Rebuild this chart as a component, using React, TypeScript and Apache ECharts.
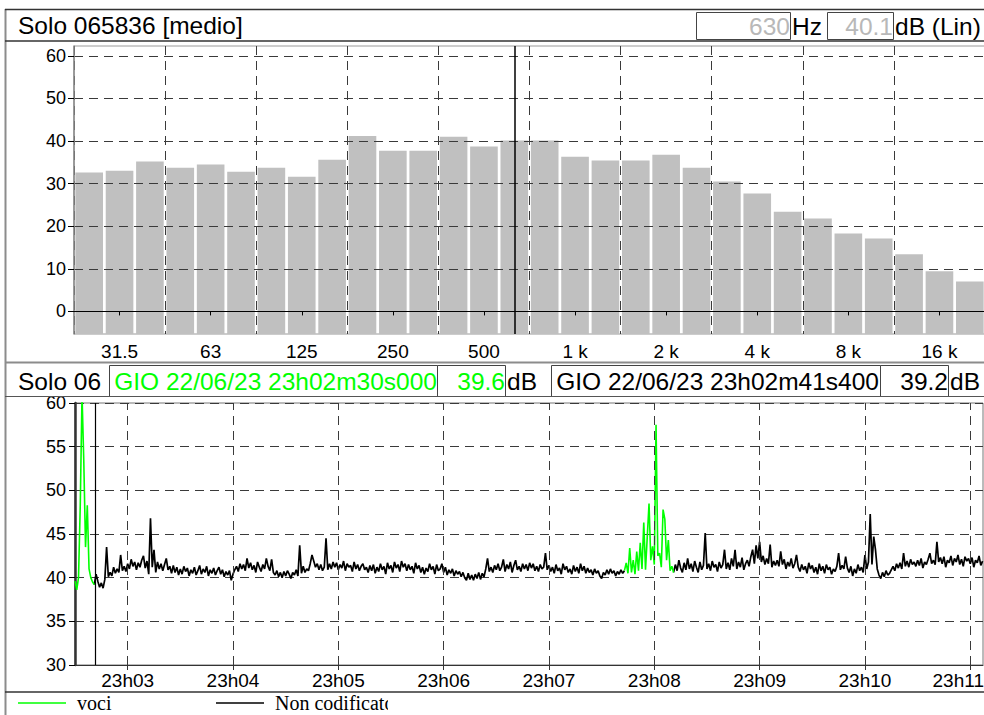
import React, { useEffect, useRef } from "react";
import * as echarts from "echarts";

// ---- Spectrum (1/3 octave) ----
const bandLabels = [
  "25", "31.5", "40", "50", "63", "80", "100", "125", "160", "200",
  "250", "315", "400", "500", "630", "800", "1 k", "1.25 k", "1.6 k", "2 k",
  "2.5 k", "3.15 k", "4 k", "5 k", "6.3 k", "8 k", "10 k", "12.5 k", "16 k", "20 k",
];
const bandLevels = [
  32.6, 33.0, 35.2, 33.7, 34.5, 32.8, 33.7, 31.6, 35.6, 41.2,
  37.7, 37.7, 41.0, 38.7, 40.1, 40.1, 36.3, 35.4, 35.4, 36.8,
  33.7, 30.5, 27.7, 23.4, 21.8, 18.3, 17.1, 13.4, 9.4, 7.0,
];
const spectrumTicks = [0, 10, 20, 30, 40, 50, 60];
const spectrumMin = -5.3;
const spectrumMax = 62.3;
const spectrumTitle = "Solo 065836 [medio]";
const cursorBand = "630";
const cursorBandLevel = "40.1";

// ---- Time history (1 value per second from 23h02m30s) ----
const historyTitle = "Solo 06";
const levels = [
  39.6, 38.6, 40.0, 48.3, 61.0, 53.4, 43.5, 48.3, 41.0, 40.0,
  39.5, 39.2, 40.4, 39.6, 38.9, 39.4, 38.8, 39.8, 43.5, 40.1,
  40.6, 40.2, 41.2, 40.5, 41.0, 40.6, 42.6, 40.8, 41.3, 40.7,
  41.6, 41.0, 42.1, 41.3, 41.8, 40.9, 41.7, 41.2, 42.0, 42.5,
  41.1, 41.9, 40.4, 46.8, 41.2, 43.2, 40.6, 41.8, 41.0, 41.6,
  40.8, 41.5, 42.2, 40.9, 41.3, 40.5, 41.4, 40.6, 41.2, 40.3,
  41.0, 40.4, 41.3, 40.7, 41.1, 40.2, 40.9, 40.5, 41.2, 40.3,
  40.8, 41.4, 40.4, 41.0, 40.6, 41.3, 40.2, 40.9, 40.5, 41.1,
  40.3, 40.8, 41.2, 40.4, 40.9, 40.1, 40.7, 40.3, 40.8, 39.7,
  40.4, 40.9, 41.3, 40.7, 41.6, 41.0, 41.5, 40.8, 42.2, 41.1,
  41.7, 40.9, 41.4, 40.6, 41.8, 41.2, 40.7, 41.5, 41.0, 42.2,
  41.3, 40.8, 42.1, 40.6, 40.3, 40.8, 40.1, 40.6, 40.0, 40.7,
  40.2, 40.8, 40.4, 39.9, 40.6, 40.3, 40.9, 40.2, 43.7, 40.5,
  41.3, 40.6, 41.0, 40.8, 41.6, 42.6, 41.9, 41.2, 41.6, 40.9,
  41.5, 40.8, 41.2, 44.5, 40.9, 41.6, 41.0, 41.8, 41.2, 41.7,
  40.9, 41.5, 41.1, 41.9, 40.8, 41.6, 41.2, 41.4, 40.7, 41.8,
  41.0, 41.5, 40.8, 41.3, 41.6, 40.9, 41.2, 40.6, 41.4, 40.8,
  41.5, 40.5, 41.2, 40.7, 41.6, 40.9, 41.3, 40.4, 41.7, 41.0,
  41.4, 40.6, 41.8, 41.1, 41.5, 40.7, 41.9, 41.2, 41.6, 40.8,
  41.5, 40.9, 41.3, 40.5, 41.7, 41.0, 41.4, 40.6, 41.2, 40.4,
  41.1, 40.7, 41.6, 40.9, 41.3, 40.4, 41.5, 40.8, 41.0, 41.6,
  40.6, 41.2, 40.3, 40.9, 40.5, 41.0, 40.2, 40.8, 40.4, 40.7,
  40.1, 40.6, 40.0, 39.7, 40.5, 39.8, 40.3, 39.7, 40.4, 39.9,
  40.6, 39.8, 40.5, 40.1, 41.0, 42.2, 40.7, 41.2, 40.6, 41.4,
  40.9, 41.6, 40.8, 41.2, 42.1, 40.7, 41.5, 41.0, 41.8, 40.6,
  41.4, 42.0, 40.9, 41.3, 40.7, 41.6, 41.0, 41.5, 40.8, 41.7,
  41.1, 41.6, 40.8, 41.3, 40.7, 41.5, 41.0, 41.2, 42.8, 40.9,
  41.4, 40.7, 41.2, 40.5, 41.5, 40.8, 41.1, 40.4, 41.6, 40.9,
  41.3, 40.6, 41.0, 40.4, 41.4, 40.7, 41.2, 40.5, 41.6, 40.8,
  41.3, 40.5, 41.1, 40.6, 40.9, 40.3, 41.0, 40.5, 40.8, 40.2,
  39.9, 40.6, 40.3, 40.9, 40.4, 41.0, 40.5, 40.8, 40.2, 40.7,
  40.4, 40.9, 40.5, 40.8, 41.7, 40.5, 43.4, 40.6, 42.0, 40.4,
  43.0, 40.8, 44.0, 41.0, 46.3, 40.9, 44.7, 48.5, 42.0, 43.6,
  41.5, 57.5, 42.5, 42.8, 41.2, 47.8, 46.7, 42.0, 44.3, 40.8,
  41.3, 40.6, 41.5, 40.8, 42.0, 41.1, 40.6, 41.7, 40.9, 42.2,
  41.0, 41.6, 40.7, 41.9, 41.2, 40.6, 41.8, 40.9, 41.4, 45.1,
  41.0, 41.6, 40.8, 41.9, 41.2, 41.5, 40.7, 41.8, 41.1, 41.5,
  43.2, 41.0, 41.7, 40.9, 42.2, 41.3, 43.2, 41.0, 41.8, 41.2,
  42.3, 40.9, 41.6, 42.0, 41.3, 42.4, 43.2, 41.6, 43.7, 42.2,
  44.1, 41.8, 42.5, 41.5, 42.2, 41.6, 43.8, 41.2, 41.9, 41.4,
  42.0, 41.3, 43.0, 41.5, 42.1, 41.0, 41.8, 41.3, 42.2, 41.1,
  41.6, 42.6, 41.2, 40.7, 41.5, 40.9, 41.3, 40.5, 41.7, 41.0,
  41.4, 40.6, 41.2, 40.4, 41.6, 40.8, 41.3, 40.5, 41.5, 40.9,
  41.2, 40.4, 41.0, 40.7, 41.3, 42.8, 40.9, 41.4, 41.0, 42.4,
  41.1, 40.6, 41.3, 40.2, 41.0, 40.5, 41.5, 40.8, 41.2, 40.6,
  42.6, 41.0, 41.8, 47.3, 41.5, 44.7, 43.2, 41.0, 40.3, 39.9,
  40.6, 40.1, 40.8, 40.3, 40.5, 40.9, 41.3, 40.8, 41.6, 41.1,
  41.7, 41.0, 42.8, 41.3, 41.9, 41.2, 42.1, 41.5, 41.8, 41.3,
  42.0, 41.4, 42.2, 41.1, 41.8, 41.5, 42.1, 42.8, 41.6, 42.0,
  41.5, 44.1, 41.8, 42.3, 41.6, 42.4, 41.2, 42.0, 41.7, 42.5,
  41.4, 42.2, 41.8, 42.6, 41.5, 42.1, 41.3, 42.4, 41.9, 42.2,
  41.6, 42.3, 41.2, 42.0, 41.7, 42.5, 41.4, 41.9,
];
// seconds from 23h02m30s000 where the "voci" code applies
const vociRanges = [
  [0, 11],
  [313, 341],
];
const historySpanSeconds = 517.25;
// minute marks, in seconds from 23h02m30s000
const timeTickOffsets = [30, 90, 150, 210, 270, 330, 390, 450, 510];
const timeTickLabels = ["23h03", "23h04", "23h05", "23h06", "23h07", "23h08", "23h09", "23h10", "23h11"];
const historyTicks = [30, 35, 40, 45, 50, 55, 60];
const cursorA = { label: "GIO 22/06/23 23h02m30s000", value: "39.6", offset: 0 };
const cursorB = { label: "GIO 22/06/23 23h02m41s400", value: "39.2", offset: 11.4 };
const seriesNames = ["voci", "Non codificato"];
const seriesColors = ["#00ff00", "#000000"];

const SANS = '"Liberation Sans", Arial, sans-serif';
const SERIF = '"Liberation Serif", "Times New Roman", serif';

export default function App() {
  const ref = useRef<HTMLDivElement>(null);

  useEffect(() => {
    if (!ref.current) return;
    const chart = echarts.init(ref.current, undefined, { renderer: "svg" });

    const inVoci = (i: number) => vociRanges.some(([s, e]) => i >= s && i <= e);
    const insideVoci = (i: number) => vociRanges.some(([s, e]) => i > s && i < e);
    const vociData = levels.map((v, i) => [i, inVoci(i) ? v : "-"]);
    const otherData = levels.map((v, i) => [i, insideVoci(i) ? "-" : v]);

    const dash = [9, 6];
    const gridLine = { color: "#3a3a3a", width: 1, type: dash };
    const boxStyle = { fill: "#ffffff", stroke: "#444444", lineWidth: 1 };
    const hText = (x: number, y: number, text: string, fill: string, align: string, z = 10) => ({
      type: "text",
      x,
      y,
      z,
      style: { text, fill, fontSize: 24.5, fontFamily: SANS, align, verticalAlign: "middle" },
    });
    const box = (x: number, y: number, w: number, h: number) => ({
      type: "rect",
      z: 5,
      shape: { x, y, width: w, height: h },
      style: boxStyle,
    });
    const hline = (x1: number, x2: number, y: number, stroke: string, w: number) => ({
      type: "line",
      z: 6,
      shape: { x1, y1: y, x2, y2: y },
      style: { stroke, lineWidth: w },
    });
    const legendText = {
      fontFamily: SERIF,
      fontSize: 20,
      color: "#000",
      padding: [2, 0, 0, 6],
    };
    const lastTick = timeTickOffsets[timeTickOffsets.length - 1];

    const option: any = {
      animation: false,
      backgroundColor: "#ffffff",
      textStyle: { fontFamily: SANS },
      grid: [
        {
          left: 74, top: 46, width: 911, height: 288,
          outerBoundsMode: "none", containLabel: false,
          show: true, borderColor: "#9a9a9a", borderWidth: 1, backgroundColor: "transparent",
        },
        {
          left: 75, top: 403, width: 908, height: 262,
          outerBoundsMode: "none", containLabel: false,
          show: true, borderColor: "#777777", borderWidth: 1, backgroundColor: "transparent",
        },
      ],
      xAxis: [
        {
          type: "category",
          gridIndex: 0,
          data: bandLabels,
          z: 3,
          axisLine: { show: true, lineStyle: { color: "#000", width: 1 } },
          axisTick: {
            show: true,
            alignWithLabel: true,
            interval: (i: number) => i % 3 === 1,
            length: 4,
            lineStyle: { color: "#000" },
          },
          axisLabel: {
            interval: (i: number) => i % 3 === 1,
            fontSize: 19,
            color: "#000",
            margin: 8,
            fontFamily: SANS,
          },
          splitLine: { show: true, interval: (i: number) => i % 3 === 0, lineStyle: gridLine },
        },
        {
          type: "value",
          gridIndex: 1,
          min: 0,
          max: historySpanSeconds,
          axisLine: { show: true, lineStyle: { color: "#333", width: 1 } },
          axisTick: { show: true, customValues: timeTickOffsets, length: 5, lineStyle: { color: "#333" } },
          axisLabel: { show: false },
          splitLine: { show: false },
        },
      ],
      yAxis: [
        {
          type: "value",
          gridIndex: 0,
          min: spectrumMin,
          max: spectrumMax,
          startValue: spectrumMin,
          z: 3,
          axisLine: { show: true, lineStyle: { color: "#8a8a8a", width: 1.5 } },
          axisTick: { show: true, customValues: spectrumTicks, length: 6, lineStyle: { color: "#000" } },
          axisLabel: { customValues: spectrumTicks, fontSize: 18, color: "#000", margin: 8, fontFamily: SANS },
          splitLine: { show: true, lineStyle: gridLine },
        },
        {
          type: "value",
          gridIndex: 1,
          min: 30,
          max: 60,
          interval: 5,
          axisLine: { show: true, lineStyle: { color: "#333", width: 2.5 } },
          axisTick: { show: true, customValues: historyTicks, length: 6, lineStyle: { color: "#000" } },
          axisLabel: { customValues: historyTicks, fontSize: 18, color: "#000", margin: 9, fontFamily: SANS },
          splitLine: { show: true, lineStyle: gridLine },
        },
      ],
      legend: [
        {
          data: [seriesNames[0]],
          left: 18,
          top: 693,
          padding: 0,
          icon: "rect",
          itemWidth: 48,
          itemHeight: 1.5,
          selectedMode: false,
          textStyle: legendText,
        },
        {
          data: [seriesNames[1]],
          left: 216,
          top: 693,
          padding: 0,
          icon: "rect",
          itemWidth: 48,
          itemHeight: 1.5,
          selectedMode: false,
          textStyle: legendText,
        },
      ],
      series: [
        {
          type: "bar",
          name: "spectrum",
          xAxisIndex: 0,
          yAxisIndex: 0,
          data: bandLevels,
          barCategoryGap: "9%",
          itemStyle: { color: "#c0c0c0" },
          z: 1,
          markLine: {
            silent: true,
            symbol: ["none", "none"],
            label: { show: false },
            lineStyle: { color: "#000", type: "solid", width: 1.5 },
            data: [{ xAxis: cursorBand }],
          },
        },
        {
          type: "line",
          name: "minute grid",
          xAxisIndex: 1,
          yAxisIndex: 1,
          data: [],
          z: 1,
          markLine: {
            silent: true,
            symbol: ["none", "none"],
            lineStyle: gridLine,
            label: {
              show: true,
              position: "start",
              distance: 6,
              fontSize: 19,
              color: "#000",
              fontFamily: SANS,
              formatter: (p: any) => timeTickLabels[timeTickOffsets.indexOf(Math.round(p.value))] ?? "",
            },
            data: timeTickOffsets.map((t) =>
              t === lastTick ? { xAxis: t, label: { offset: [-12, 0] } } : { xAxis: t }
            ),
          },
        },
        {
          type: "line",
          name: seriesNames[1],
          xAxisIndex: 1,
          yAxisIndex: 1,
          data: otherData,
          showSymbol: false,
          connectNulls: false,
          itemStyle: { color: seriesColors[1] },
          lineStyle: { color: seriesColors[1], width: 1.7 },
          z: 3,
          markLine: {
            silent: true,
            symbol: ["none", "none"],
            label: { show: false },
            lineStyle: { color: "#000", type: "solid", width: 1.2 },
            data: [{ xAxis: cursorB.offset }],
          },
        },
        {
          type: "line",
          name: seriesNames[0],
          xAxisIndex: 1,
          yAxisIndex: 1,
          data: vociData,
          showSymbol: false,
          connectNulls: false,
          itemStyle: { color: seriesColors[0] },
          lineStyle: { color: seriesColors[0], width: 1.6 },
          z: 4,
        },
      ],
      graphic: [
        // frame
        { type: "line", z: 6, shape: { x1: 5.5, y1: 9, x2: 5.5, y2: 715 }, style: { stroke: "#8c8c8c", lineWidth: 2 } },
        hline(5, 984, 9.5, "#333", 1.5),
        hline(5, 984, 41, "#333", 1.5),
        hline(5, 984, 362.5, "#8c8c8c", 2),
        hline(5, 984, 396.5, "#555", 1.2),
        hline(5, 984, 692, "#333", 1.5),
        // top header
        hText(18, 25, spectrumTitle, "#000", "left"),
        box(696.5, 12.5, 94, 27),
        hText(790, 26, cursorBand, "#b8b8b8", "right"),
        hText(792, 26, "Hz", "#000", "left"),
        box(827.5, 12.5, 66, 27),
        hText(893, 26, cursorBandLevel, "#b8b8b8", "right"),
        hText(895, 26, "dB (Lin)", "#000", "left"),
        // middle header
        hText(18, 381, historyTitle, "#000", "left"),
        box(109.5, 365.5, 328, 31),
        hText(437, 381, cursorA.label, seriesColors[0], "right"),
        box(437.5, 365.5, 68, 31),
        hText(505, 381, cursorA.value, seriesColors[0], "right"),
        hText(507, 381, "dB", "#000", "left"),
        box(551.5, 365.5, 329, 31),
        hText(879, 381, cursorB.label, "#000", "right"),
        box(880.5, 365.5, 68, 31),
        hText(948, 381, cursorB.value, "#000", "right"),
        hText(950, 381, "dB", "#000", "left"),
        // legend cell clipping
        { type: "rect", z: 100, shape: { x: 388, y: 693, width: 600, height: 30 }, style: { fill: "#ffffff" } },
      ],
    };

    chart.setOption(option);
    return () => chart.dispose();
  }, []);

  return (
    <div
      ref={ref}
      style={{ position: "absolute", left: 0, top: 0, width: 984, height: 715, background: "#fff" }}
    />
  );
}
